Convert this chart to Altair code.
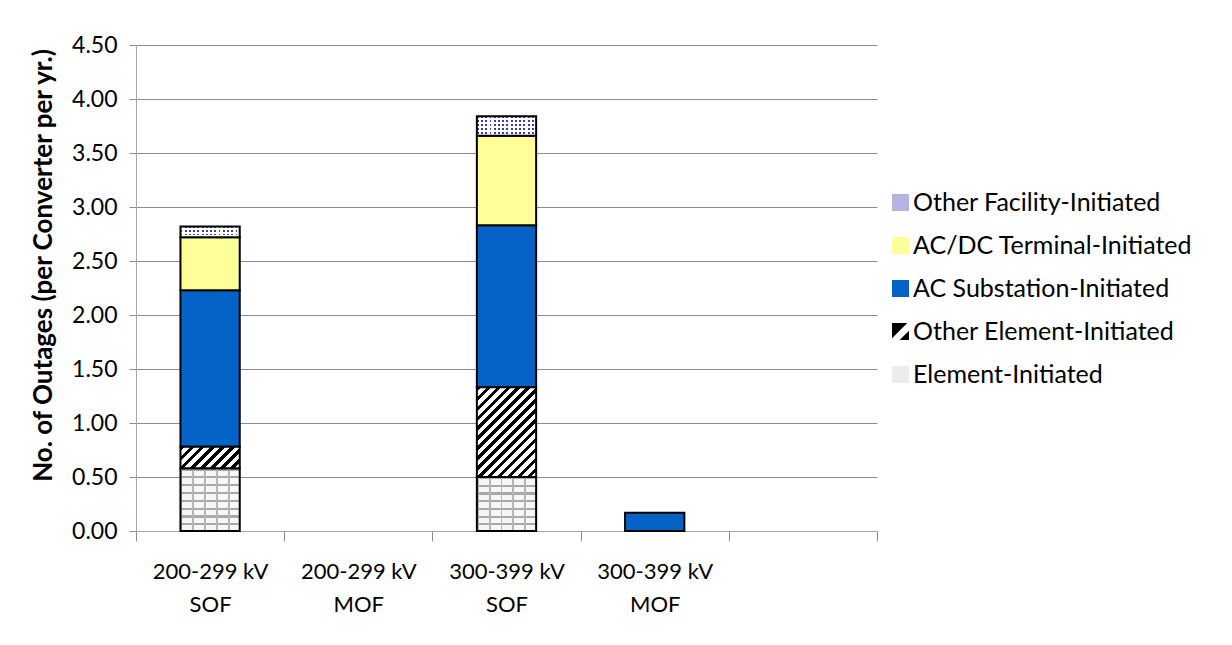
import altair as alt
import pandas as pd

# ---- data ----
categories = ["200-299 kV|SOF", "200-299 kV|MOF", "300-399 kV|SOF", "300-399 kV|MOF", " "]
series_bottom_up = [
    "Element-Initiated",
    "Other Element-Initiated",
    "AC Substation-Initiated",
    "AC/DC Terminal-Initiated",
    "Other Facility-Initiated",
]
element = [0.58, 0.0, 0.50, 0.0]
other_element = [0.20, 0.0, 0.83, 0.0]
ac_substation = [1.45, 0.0, 1.50, 0.17]
acdc_terminal = [0.49, 0.0, 0.83, 0.0]
other_facility = [0.10, 0.0, 0.18, 0.0]

values = [element, other_element, ac_substation, acdc_terminal, other_facility]
rows = []
for order, (s, vals) in enumerate(zip(series_bottom_up, values)):
    for c, v in zip(categories, vals):
        if v > 0:
            rows.append({"cat": c, "series": s, "value": v, "order": order})
df = pd.DataFrame(rows)

legend_order = list(reversed(series_bottom_up))
legend_colors = ["#b4b4e4", "#ffff99", "#0563c8", "#000000", "#ececec"]
hatch_icon = ("M-1,-1L1,-1L1,1L-1,1Z"
              "M-1,0.8L-1,1L-0.1,1L1,-0.1L1,-1L0.8,-1Z")
legend_shapes = ["square", "square", "square", hatch_icon, "square"]

# ---- style helpers ----
W, H = 741, 486
PX = H / 4.5
BAR_W = 0.4 * W / len(categories)
FONT = "Lato"


def stripes(n, frac, c_on, c_off, x1, y1, x2, y2):
    stops = []
    for i in range(n):
        a, b, e = i / n, (i + frac) / n, (i + 1) / n
        stops += [(a, c_on), (b, c_on), (b, c_off), (e, c_off)]
    return alt.LinearGradient(
        gradient="linear",
        stops=[alt.GradientStop(offset=round(o, 5), color=c) for o, c in stops],
        x1=x1, y1=y1, x2=x2, y2=y2,
    )


def diag_hatch(val):
    h = val * PX
    r = BAR_W / h
    b = (r + 1) / (r * r + 1)
    a = r * b
    n = max(2, round((BAR_W + h) / 1.4142 / 7.2))
    return stripes(n, 0.45, "#000000", "#ffffff", 0, 0, a, b)


CLEAR = "rgba(255,255,255,0)"

base = alt.Chart(df).transform_stack(
    stack="value", as_=["y0", "y1"], groupby=["cat"],
    sort=[alt.SortField(field="order", order="ascending")],
)

x_enc = alt.X(
    "cat:N",
    scale=alt.Scale(domain=categories, paddingInner=0, paddingOuter=0),
    axis=alt.Axis(
        title=None, labelAngle=0, labelExpr="split(datum.label, '|')",
        labelFont=FONT, labelFontSize=22, labelLineHeight=33, labelColor="black",
        labelPadding=20, tickBand="extent", tickSize=10, tickColor="#8c8c8c",
        domainColor="#a6a6a6", grid=False,
    ),
)
y_enc = alt.Y(
    "y0:Q",
    scale=alt.Scale(domain=[0, 4.5], nice=False),
    axis=alt.Axis(
        values=[0, 0.5, 1, 1.5, 2, 2.5, 3, 3.5, 4, 4.5], format=".2f",
        labelFont=FONT, labelFontSize=23, labelColor="black", labelPadding=12,
        tickSize=7, tickColor="#8c8c8c", domainColor="#a6a6a6",
        grid=True, gridColor="#8c8c8c",
        title="No. of Outages (per Converter per yr.)",
        titleFont=FONT, titleFontSize=26, titleFontWeight="bold", titleColor="black",
        titleX=-93, titleY=220, titleBaseline="middle", titleAlign="center",
    ),
)


def bar_layer(flt, fill, stroke=True):
    kw = dict(width=alt.RelativeBandSize(0.4), fill=fill)
    if stroke:
        kw.update(stroke="black", strokeWidth=2)
    else:
        kw.update(strokeWidth=0)
    return base.transform_filter(flt).mark_bar(**kw).encode(x=x_enc, y=y_enc, y2="y1:Q")


legend = alt.Legend(
    title=None, orient="none", legendX=752, legendY=145,
    symbolSize=289, symbolStrokeColor="black", symbolStrokeWidth=1.5,
    symbolOpacity=1, labelFont=FONT, labelFontSize=25, labelColor="black",
    labelLimit=500, rowPadding=17, labelOffset=0,
)
legend_layer = base.mark_point(
    filled=True, size=0, stroke="black", strokeWidth=1.5, strokeOpacity=1
).encode(
    x=x_enc, y=alt.Y("y1:Q", scale=alt.Scale(domain=[0, 4.5], nice=False)),
    fill=alt.Fill("series:N", scale=alt.Scale(domain=legend_order, range=legend_colors), legend=legend),
    shape=alt.Shape("series:N", scale=alt.Scale(domain=legend_order, range=legend_shapes), legend=legend),
)

layers = [legend_layer]
layers.append(bar_layer("datum.series == 'AC Substation-Initiated'", "#0563c8"))
layers.append(bar_layer("datum.series == 'AC/DC Terminal-Initiated'", "#ffff99"))

for c, v in zip(categories, element):
    if v > 0:
        flt = f"datum.series == 'Element-Initiated' && datum.cat == '{c}'"
        rows_n = max(2, round(v * PX / 7.8))
        layers.append(bar_layer(flt, stripes(rows_n, 0.28, "#a8a8a8", "#f6f6f6", 0, 0, 0, 1), stroke=False))
        layers.append(bar_layer(flt, stripes(5, 0.16, "#b4b4b4", CLEAR, 0, 0, 1, 0)))

for c, v in zip(categories, other_element):
    if v > 0:
        flt = f"datum.series == 'Other Element-Initiated' && datum.cat == '{c}'"
        layers.append(bar_layer(flt, diag_hatch(v)))

for c, v in zip(categories, other_facility):
    if v > 0:
        flt = f"datum.series == 'Other Facility-Initiated' && datum.cat == '{c}'"
        rows_n = max(2, round(v * PX / 3.9))
        layers.append(bar_layer(flt, stripes(14, 0.45, "#3c3ca8", "#ffffff", 0, 0, 1, 0), stroke=False))
        layers.append(bar_layer(flt, stripes(rows_n, 0.5, CLEAR, "#ffffff", 0, 0, 0, 1)))

chart = alt.layer(*layers).properties(
    width=W, height=H,
    autosize=alt.AutoSizeParams(type="none"),
    padding={"left": 128, "top": 37, "right": 340, "bottom": 100},
    background="white",
).configure_view(stroke=None)

chart.save("out.html", embed_options={"renderer": "svg", "actions": False})
